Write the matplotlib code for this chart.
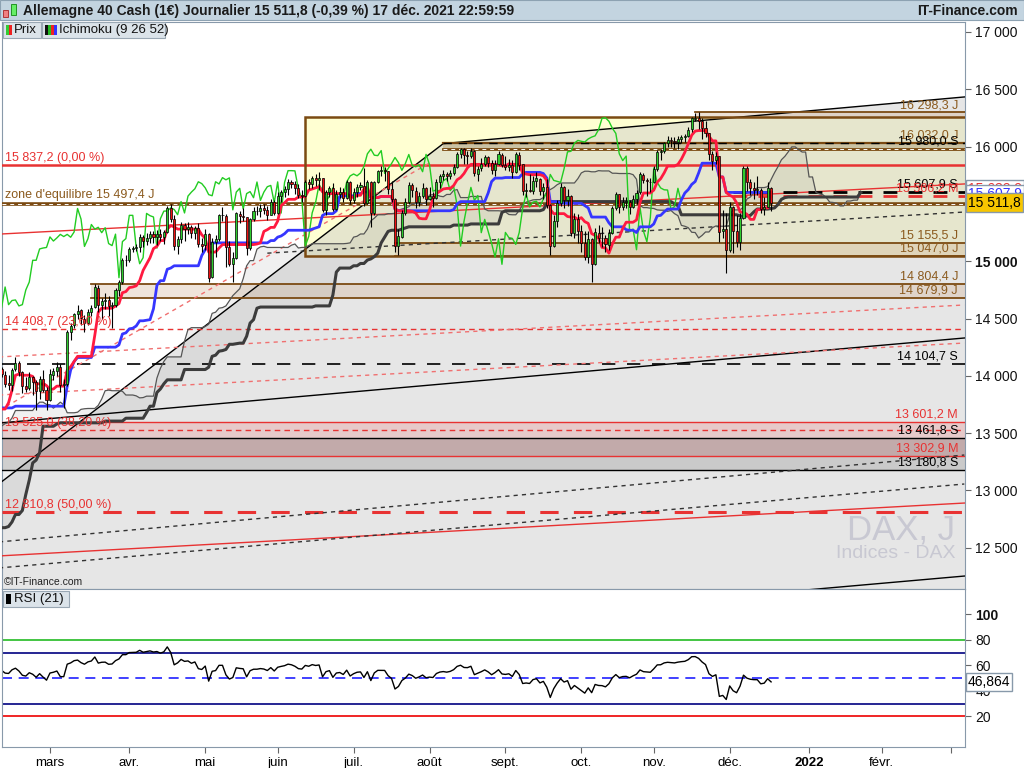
import numpy as np
import pandas as pd
import matplotlib
matplotlib.use('Agg')
import matplotlib.pyplot as plt
from matplotlib.patches import Rectangle, Polygon

plt.rcParams['font.family'] = ['Liberation Sans', 'DejaVu Sans']

# hidden history Oct 19 2020 - Feb 5 2021 (only warms up Ichimoku and RSI)
pre_highs = [12900, 12880, 12700, 12620, 12700, 12500, 12200, 12010, 11740, 11680,
             11830, 12120, 12400, 12600, 12560, 13300, 13250, 13300, 13200, 13120, 13190,
             13180, 13260, 13200, 13180, 13330, 13320, 13330, 13340, 13380, 13370,
             13420, 13400, 13350, 13330, 13340, 13320, 13380, 13340, 13200, 13280, 13400,
             13580, 13690, 13700, 13620, 13450, 13600, 13600, 13600, 13900, 13820, 13790, 13760,
             13760, 13810, 13720, 13920, 14000, 14130, 14050, 13990, 14000, 14040, 13990,
             13880, 13900, 13950, 13960, 13950, 13850, 13900, 13830, 13750, 13650,
             13650, 13900, 13980, 14080, 14100]
pre_lows = [12800, 12650, 12540, 12460, 12530, 12150, 11980, 11510, 11450, 11450,
            11520, 11800, 12050, 12350, 12400, 12530, 13000, 13150, 13020, 12990, 13030,
            13060, 13140, 13050, 13050, 13100, 13150, 13250, 13250, 13260, 13200,
            13300, 13250, 13200, 13200, 13200, 13180, 13270, 13240, 13050, 13100, 13180,
            13400, 13560, 13580, 13100, 13200, 13400, 13520, 13560, 13650, 13700, 13690, 13680,
            13680, 13550, 13480, 13600, 13850, 13950, 13830, 13820, 13850, 13900, 13720,
            13760, 13780, 13780, 13860, 13790, 13600, 13650, 13560, 13450, 13310,
            13420, 13640, 13850, 13900, 13970]
pre_closes = [12854, 12737, 12558, 12543, 12645, 12177, 12063, 11560, 11598, 11556,
              11788, 12088, 12324, 12568, 12480, 13095, 13163, 13216, 13052, 13076, 13139,
              13133, 13202, 13086, 13137, 13126, 13292, 13290, 13286, 13335, 13291,
              13382, 13313, 13252, 13298, 13271, 13278, 13340, 13295, 13114, 13223, 13362,
              13565, 13667, 13630, 13246, 13418, 13587, 13587, 13590, 13790, 13761, 13719, 13719,
              13719, 13727, 13651, 13892, 13968, 14050, 13937, 13926, 13940, 13989, 13788,
              13848, 13816, 13922, 13907, 13874, 13644, 13871, 13621, 13666, 13432,
              13623, 13835, 13933, 14060, 14057]

# visible daily candles Feb 8 2021 - Dec 17 2021
opens = [14060, 14060, 14010, 13935, 13920, 14060, 14110, 14030, 13910, 13890, 13990, 13950, 13865, 13975, 13880,
         13790, 14010, 14040, 14080, 13920, 13930, 14380, 14440, 14540, 14570, 14500, 14460, 14555, 14600, 14770,
         14620, 14655, 14660, 14610, 14620, 14750, 14820, 15010,
         15010, 15105, 15115, 15120, 15210, 15175, 15200, 15235, 15215, 15235, 15210, 15255, 15460, 15370, 15130,
         15195, 15320, 15280, 15295, 15250, 15290, 15150,
         15140, 15235, 14860, 15170, 15195, 15400, 15395, 15120, 14975, 15030, 15415, 15395, 15385, 15115, 15370,
         15435, 15440, 15465, 15450, 15405, 15520,
         15420, 15570, 15605, 15630, 15690, 15675, 15640, 15580, 15570, 15690, 15675, 15730, 15710, 15725, 15445,
         15600, 15635, 15455, 15590, 15605, 15555, 15690,
         15530, 15600, 15650, 15660, 15510, 15690, 15420, 15690, 15790, 15790, 15785, 15630, 15540, 15130, 15215,
         15420, 15515, 15665, 15615, 15520, 15570, 15640,
         15545, 15570, 15555, 15690, 15745, 15760, 15745, 15770, 15825, 15935, 15975, 15925, 15920, 15960, 15765,
         15810, 15850, 15905, 15860, 15795, 15850, 15930,
         15835, 15825, 15840, 15780, 15930, 15845, 15610, 15625, 15610, 15700, 15720, 15615, 15650, 15490, 15130,
         15350, 15505, 15645, 15530, 15570, 15250, 15365,
         15260, 15155, 15035, 15195, 14975, 15250, 15205, 15200, 15145, 15250, 15460, 15585, 15475, 15515, 15520,
         15475, 15545, 15600, 15755, 15705, 15695,
         15690, 15805, 15955, 15960, 16030, 16055, 16045, 16040, 16065, 16085, 16095, 16150, 16245, 16250, 16220,
         16160, 16115, 15935, 15880, 15915, 15260, 15280,
         15100, 15470, 15265, 15170, 15380, 15815, 15690, 15640, 15620, 15620, 15455, 15475, 15635]
highs = [14110, 14080, 14040, 14010, 14070, 14160, 14130, 14040, 13990, 14030, 14000, 13960, 14000, 14050, 13900,
         14060, 14070, 14120, 14100, 13970, 14400, 14460, 14550, 14620, 14580, 14530, 14580, 14620, 14800, 14790,
         14680, 14720, 14700, 14640, 14770, 14840, 15030, 15050,
         15120, 15130, 15150, 15240, 15230, 15250, 15260, 15260, 15270, 15280, 15270, 15480, 15500, 15400, 15220,
         15340, 15330, 15340, 15320, 15310, 15330, 15200,
         15280, 15250, 15200, 15230, 15410, 15470, 15410, 15180, 15080, 15430, 15440, 15460, 15390, 15380, 15470,
         15480, 15500, 15500, 15480, 15540, 15530,
         15600, 15620, 15660, 15720, 15710, 15700, 15670, 15620, 15710, 15720, 15740, 15760, 15780, 15730, 15620,
         15660, 15680, 15620, 15650, 15640, 15710, 15700,
         15640, 15670, 15690, 15810, 15710, 15700, 15700, 15800, 15830, 15820, 15790, 15700, 15550, 15280, 15450,
         15550, 15690, 15680, 15650, 15600, 15680, 15650,
         15650, 15600, 15720, 15760, 15800, 15780, 15800, 15850, 15950, 15990, 15990, 15960, 15990, 15970, 15830,
         15900, 15930, 15920, 15880, 15880, 15960, 15940,
         15920, 15890, 15880, 15950, 15950, 15850, 15680, 15760, 15740, 15780, 15730, 15680, 15720, 15500, 15400,
         15530, 15680, 15660, 15630, 15580, 15420, 15410,
         15320, 15260, 15260, 15200, 15290, 15320, 15300, 15230, 15280, 15480, 15600, 15590, 15560, 15560, 15530,
         15580, 15620, 15780, 15770, 15730, 15730,
         15830, 15970, 15980, 16040, 16090, 16080, 16080, 16090, 16100, 16110, 16170, 16260, 16290, 16300, 16250,
         16220, 16120, 15960, 15950, 15920, 15450, 15420,
         15520, 15480, 15400, 15420, 15830, 15830, 15720, 15690, 15740, 15640, 15560, 15690, 15650]
lows = [14010, 13990, 13900, 13880, 13870, 14040, 14000, 13850, 13860, 13880, 13830, 13700, 13800, 13860, 13700,
        13780, 13960, 14000, 13860, 13720, 13910, 14310, 14420, 14500, 14440, 14380, 14440, 14520, 14590, 14560,
        14500, 14580, 14520, 14420, 14600, 14700, 14800, 14960,
        14990, 15080, 15090, 15080, 15120, 15140, 15160, 15160, 15140, 15180, 15150, 15250, 15340, 15100, 15060,
        15160, 15180, 15240, 15200, 15190, 15120, 15080,
        15100, 14820, 14850, 15040, 15180, 15350, 14950, 14960, 14820, 15020, 15330, 15350, 15050, 15100, 15350,
        15400, 15390, 15410, 15360, 15400, 15400,
        15410, 15520, 15560, 15580, 15640, 15590, 15550, 15520, 15560, 15630, 15640, 15660, 15620, 15430, 15400,
        15560, 15440, 15450, 15550, 15520, 15540, 15500,
        15510, 15560, 15620, 15480, 15500, 15300, 15400, 15680, 15740, 15700, 15590, 15520, 15080, 15050, 15200,
        15400, 15500, 15560, 15460, 15480, 15550, 15490,
        15530, 15470, 15540, 15640, 15710, 15700, 15720, 15750, 15810, 15900, 15850, 15850, 15900, 15740, 15700,
        15790, 15830, 15820, 15760, 15740, 15840, 15820,
        15800, 15790, 15730, 15770, 15800, 15580, 15560, 15600, 15590, 15650, 15580, 15540, 15460, 15050, 15120,
        15300, 15480, 15460, 15480, 15220, 15200, 15160,
        15080, 15010, 14980, 14820, 14970, 15160, 15120, 15080, 15100, 15240, 15450, 15420, 15450, 15460, 15410,
        15460, 15500, 15590, 15680, 15570, 15600,
        15680, 15790, 15880, 15940, 16000, 16000, 15990, 15980, 16030, 16040, 16080, 16130, 16220, 16150, 16070,
        16080, 15880, 15800, 15850, 15170, 15200, 14900,
        15080, 15070, 15120, 15100, 15370, 15610, 15580, 15540, 15580, 15420, 15400, 15470, 15440]
closes = [14059, 14012, 13932, 13921, 14050, 14109, 14033, 13909, 13886, 13993, 13950, 13865, 13976, 13879, 13786,
          14012, 14039, 14080, 13920, 13920, 14380, 14437, 14540, 14569, 14502, 14461, 14557, 14596, 14775, 14621,
          14657, 14662, 14610, 14621, 14749, 14818, 15008, 15008,
          15107, 15115, 15120, 15212, 15176, 15203, 15234, 15215, 15234, 15209, 15255, 15460, 15368, 15129, 15196,
          15320, 15280, 15296, 15249, 15292, 15154, 15136,
          15236, 14856, 15171, 15197, 15400, 15400, 15120, 14978, 15031, 15417, 15397, 15386, 15114, 15370, 15437,
          15438, 15465, 15451, 15406, 15520, 15421,
          15568, 15603, 15632, 15693, 15677, 15640, 15581, 15571, 15693, 15674, 15729, 15710, 15727, 15448, 15603,
          15636, 15456, 15590, 15607, 15554, 15691, 15531,
          15603, 15650, 15661, 15511, 15692, 15420, 15688, 15790, 15790, 15788, 15630, 15540, 15133, 15216, 15422,
          15514, 15669, 15618, 15519, 15570, 15640, 15544,
          15568, 15555, 15692, 15744, 15761, 15745, 15770, 15826, 15937, 15977, 15925, 15921, 15965, 15766, 15808,
          15852, 15905, 15860, 15793, 15852, 15931, 15835,
          15824, 15840, 15781, 15932, 15843, 15610, 15623, 15609, 15701, 15722, 15616, 15651, 15490, 15132, 15348,
          15506, 15644, 15531, 15573, 15249, 15365, 15260,
          15156, 15036, 15195, 14973, 15251, 15206, 15199, 15147, 15250, 15462, 15587, 15474, 15516, 15523, 15473,
          15543, 15599, 15757, 15705, 15696, 15688,
          15806, 15954, 15959, 16030, 16054, 16046, 16040, 16067, 16083, 16094, 16148, 16247, 16251, 16221, 16160,
          16115, 15937, 15878, 15917, 15257, 15280, 15100,
          15472, 15263, 15170, 15380, 15813, 15687, 15639, 15623, 15621, 15453, 15476, 15636, 15511.8]

month_labels = ['mars', 'avr.', 'mai', 'juin', 'juil.', 'août', 'sept.', 'oct.', 'nov.', 'déc.', '2022', 'févr.', '']
price_ticks = [12500, 13000, 13500, 14000, 14500, 15000, 16000, 16500, 17000]
rsi_ticks = [20, 40, 60, 80, 100]

# fibonacci retracement, left labels
fib_values = [15837.2, 14408.7, 13525.0, 12810.8]
fib_pcts = [0.0, 23.6, 38.2, 50.0]
zone_value = 15497.4

# support / resistance levels, right labels (J = journalier, S = semaine, M = mois)
level_values = [16298.3, 16032.0, 15980.0, 15607.9, 15566.2, 15155.5, 15047.0,
                14804.4, 14679.9, 14104.7, 13601.2, 13461.8, 13302.9, 13180.8]
level_tags = ['J', 'J', 'S', 'S', 'M', 'J', 'J', 'J', 'J', 'S', 'M', 'S', 'M', 'S']

# trend lines: price on Feb 8 2021 and on Mar 7 2022
line_dates = ['2021-02-08', '2022-03-07']
black_lines = [(13587, 14330), (11511, 12253)]
red_lines = [(15236, 15674), (12428, 12890)]
dashed_lines = [(12550, 13309), (12323, 13056)]
mid_dashed = [('2021-05-27', 15070), ('2022-03-07', 15429)]
red_dashed_lines = [(14164, 14618), (13832, 14286)]
steep_red = [('2021-02-08', 13693), ('2021-08-02', 15857)]
channel_top = [('2021-02-08', 13053), ('2021-08-06', 16026), ('2022-03-07', 16433)]
yellow_box = ('2021-06-11', 15047.0, 16258.0)

tenkan_last, kijun_last, rsi_last = 15632.9, 15607.9, 46.864

BROWN = '#7b4a12'
BROWN_TXT = '#8b5a1e'
RED = '#e83232'


def fmt(v, dec=1):
    s = f'{v:,.{dec}f}'
    return s.replace(',', ' ').replace('.', ',')


high = pd.Series(pre_highs + highs, dtype=float)
low = pd.Series(pre_lows + lows, dtype=float)
close = pd.Series(pre_closes + closes, dtype=float)
n = len(close)
n_pre = len(pre_closes)
dates = pd.bdate_range(end='2021-12-17', periods=n)
all_dates = dates.append(pd.bdate_range(start='2021-12-20', periods=70))
x = np.arange(n)
xv = x[n_pre:]


def pos(d):
    return all_dates.searchsorted(pd.Timestamp(d))


shift = 26
tenkan = (high.rolling(9).max() + low.rolling(9).min()) / 2
kijun = (high.rolling(26).max() + low.rolling(26).min()) / 2
span_a = (tenkan + kijun) / 2
span_b = (high.rolling(52).max() + low.rolling(52).min()) / 2

delta = close.diff()
gain = delta.clip(lower=0).ewm(alpha=1 / 21, adjust=False).mean()
loss = (-delta.clip(upper=0)).ewm(alpha=1 / 21, adjust=False).mean()
rsi = 100 - 100 / (1 + gain / loss)

W, H = 1024, 768
fig = plt.figure(figsize=(10.24, 7.68), dpi=100)


def fx(px):
    return px / W


def fy(py):
    return 1 - py / H


ax = fig.add_axes([fx(2), fy(589), fx(965) - fx(2), fy(22) - fy(589)])
ax_r = fig.add_axes([fx(2), fy(747), fx(965) - fx(2), fy(589) - fy(747)], sharex=ax)

i_mar = pos('2021-03-01')
x0, x1 = i_mar - 13.9, i_mar + 265.2
ax.set_xlim(x0, x1)
ax.set_ylim(12140, 17087)

# yellow box and grey channel
yb0 = pos(yellow_box[0])
ax.add_patch(Rectangle((yb0, yellow_box[1]), x1 + 5 - yb0, yellow_box[2] - yellow_box[1],
                       facecolor='#ffffd2', edgecolor='none', zorder=1))
ct = [(pos(d), p) for d, p in channel_top]
ax.add_patch(Polygon(ct + [(x1 + 5, ct[-1][1]), (x1 + 5, 12000), (ct[0][0], 12000)],
                     closed=True, facecolor='#c8c8c8', alpha=0.45, edgecolor='none', zorder=1.5))
ax.plot([p[0] for p in ct], [p[1] for p in ct], color='black', lw=1, zorder=3)
ax.add_patch(Rectangle((yb0, yellow_box[1]), x1 + 5 - yb0, yellow_box[2] - yellow_box[1],
                       facecolor='none', edgecolor=BROWN, lw=1.8, zorder=3.2))

# bands between levels
ax.axhspan(level_values[11], level_values[10], color='#e8b0b0', alpha=0.5, lw=0, zorder=1.8)
ax.axhspan(level_values[12], level_values[11], color='#a07070', alpha=0.5, lw=0, zorder=1.8)
ax.axhspan(level_values[13], level_values[12], color='#a0a0a0', alpha=0.4, lw=0, zorder=1.8)
band_specs = [(8, 7, '2021-03-17'), (6, 5, '2021-07-19'), (2, 1, '2021-08-06')]
for lo_i, hi_i, start in band_specs:
    s = pos(start)
    col = '#a08c64' if lo_i == 2 else '#d2b496'
    ax.add_patch(Rectangle((s, level_values[lo_i]), x1 + 5 - s, level_values[hi_i] - level_values[lo_i],
                           facecolor=col, alpha=0.4 if lo_i == 2 else 0.35, edgecolor='none', zorder=1.8))
s_top = pos('2021-11-17')
ax.add_patch(Rectangle((s_top, yellow_box[2]), x1 + 5 - s_top, level_values[0] - yellow_box[2],
                       facecolor='#d2b496', alpha=0.4, edgecolor='none', zorder=1.8))

# level lines
for i in [0, 5, 6, 7, 8]:
    s = pos({0: '2021-11-17', 5: '2021-07-19', 6: '2021-07-19'}.get(i, '2021-03-17'))
    ax.plot([s, x1 + 5], [level_values[i]] * 2, color=BROWN, lw=1.3, zorder=3)
s = pos('2021-08-06')
ax.plot([s, x1 + 5], [level_values[1]] * 2, color=BROWN, lw=1.6, zorder=3)
ax.plot([s, x1 + 5], [level_values[1]] * 2, color='black', lw=1, ls=(0, (6, 5)), zorder=3.1)
ax.plot([s, x1 + 5], [level_values[2]] * 2, color=BROWN, lw=2, zorder=3)
ax.plot([s, x1 + 5], [level_values[2]] * 2, color='white', lw=0.7, ls=(0, (4, 4)), zorder=3.1)
s = pos('2021-12-02')
ax.plot([s, x1 + 5], [level_values[3]] * 2, color='black', lw=2, ls=(0, (5, 4)), zorder=3.5)
ax.plot([s, x1 + 5], [level_values[4]] * 2, color=RED, lw=2, ls=(0, (5, 4)), zorder=3.5)
ax.axhline(level_values[9], color='black', lw=1.2, ls=(0, (8, 7)), zorder=3)
for i in [10, 11, 12, 13]:
    ax.axhline(level_values[i], color=RED if level_tags[i] == 'M' else 'black', lw=1, zorder=3)

# fibonacci lines
ax.axhline(fib_values[0], color=RED, lw=1.8, zorder=3)
ax.axhline(fib_values[1], color=RED, lw=1, ls=(0, (4, 3)), zorder=3)
ax.axhline(fib_values[2], color=RED, lw=1, ls=(0, (4, 3)), zorder=3)
ax.axhline(fib_values[3], color=RED, lw=2.2, ls=(0, (6, 5)), zorder=3)
ax.axhline(zone_value, color=BROWN, lw=2.6, zorder=3)
ax.axhline(zone_value, color='white', lw=0.7, ls=(0, (4, 4)), zorder=3.1)

# trend lines
lx = [pos(d) for d in line_dates]
for p in black_lines:
    ax.plot(lx, p, color='black', lw=1, zorder=3)
for p in red_lines:
    ax.plot(lx, p, color=RED, lw=1, zorder=3)
for p in dashed_lines:
    ax.plot(lx, p, color='#333333', lw=1, ls=(0, (3, 3)), zorder=3)
ax.plot([pos(d) for d, _ in mid_dashed], [p for _, p in mid_dashed], color='#333333', lw=1,
        ls=(0, (3, 3)), zorder=3)
for p in red_dashed_lines:
    ax.plot(lx, p, color='#f07070', lw=1, ls=(0, (3, 3)), zorder=3)
ax.plot([pos(d) for d, _ in steep_red], [p for _, p in steep_red], color='#f07070', lw=1,
        ls=(0, (3, 3)), zorder=3)

# ichimoku
ax.fill_between(x + shift, span_a, span_b, color='#8a8a8a', alpha=0.12, lw=0, zorder=2)
ax.plot(x + shift, span_a, color='#555555', lw=0.9, zorder=4)
ax.plot(x + shift, span_b, color='#3c3c3c', lw=2.2, zorder=4)
ax.plot(x - shift, close, color='#22cc22', lw=1, zorder=5)
ax.plot(x, kijun, color='#3636ff', lw=2, zorder=5)
ax.plot(x, tenkan, color='#ff1a40', lw=2, zorder=5)

# candles
o = np.array(opens, dtype=float)
c = np.array(closes, dtype=float)
up = c >= o
ax.vlines(xv, lows, highs, color='black', lw=0.8, zorder=6)
ax.bar(xv, np.maximum(np.abs(c - o), 6), bottom=np.minimum(o, c), width=0.6,
       color=np.where(up, '#2ecc2e', '#ee1111'), edgecolor='black', lw=0.5, zorder=7)

# labels
for v, tag in zip(level_values, level_tags):
    col = {'J': BROWN_TXT, 'S': 'black', 'M': RED}[tag]
    ax.annotate(f'{fmt(v)} {tag}', xy=(1, v), xycoords=('axes fraction', 'data'),
                xytext=(-5, 1), textcoords='offset points', ha='right', va='bottom',
                fontsize=9, color=col, zorder=8)
for v, pc in zip(fib_values, fib_pcts):
    ax.annotate(f'{fmt(v)} ({fmt(pc, 2)} %)', xy=(0, v), xycoords=('axes fraction', 'data'),
                xytext=(2, 1), textcoords='offset points', ha='left', va='bottom',
                fontsize=9, color=RED, zorder=8)
ax.annotate(f"zone d'equilibre {fmt(zone_value)} J", xy=(0, zone_value),
            xycoords=('axes fraction', 'data'), xytext=(2, 2), textcoords='offset points',
            ha='left', va='bottom', fontsize=9, color=BROWN_TXT, zorder=8)

ax.text(0.99, 0.104, 'DAX, J', transform=ax.transAxes, ha='right', va='center',
        fontsize=25, color='#c8c8d2', zorder=2.5)
ax.text(0.99, 0.062, 'Indices - DAX', transform=ax.transAxes, ha='right', va='center',
        fontsize=14, color='#c8c8d2', zorder=2.5)
ax.text(0.002, 0.012, '©IT-Finance.com', transform=ax.transAxes, ha='left', va='center',
        fontsize=7.5, color='#222222', zorder=8)

# price axis
ax.yaxis.tick_right()
ax.set_yticks(price_ticks)
ax.set_yticklabels([fmt(t, 0) for t in price_ticks])
for t in ax.get_yticklabels():
    if t.get_text() == '15 000':
        t.set_fontweight('bold')
ax.tick_params(axis='y', labelsize=10, length=4, color='#666666', labelcolor='#111111')
ax.tick_params(axis='x', bottom=False, labelbottom=False)
yax = ax.get_yaxis_transform()
box_kw = dict(boxstyle='square,pad=0.15', edgecolor='#8899aa', lw=1)
ax.text(1.003, tenkan_last, fmt(tenkan_last), transform=yax, ha='left', va='center', fontsize=10,
        color=RED, bbox=dict(facecolor='white', **box_kw), clip_on=False, zorder=9)
ax.text(1.003, kijun_last - 20, fmt(kijun_last), transform=yax, ha='left', va='center', fontsize=10,
        color='#3333ff', bbox=dict(facecolor='white', **box_kw), clip_on=False, zorder=9)
ax.text(1.003, closes[-1], fmt(closes[-1]), transform=yax, ha='left', va='center', fontsize=10,
        color='black', bbox=dict(facecolor='#f7c600', **box_kw), clip_on=False, zorder=9)

# RSI panel
ax_r.set_ylim(-4, 120)
ax_r.axhline(80, color='#22bb22', lw=1.2)
ax_r.axhline(70, color='#000080', lw=1.2)
ax_r.axhline(50, color='#2020ff', lw=1.2, ls=(0, (6, 4)))
ax_r.axhline(30, color='#000080', lw=1.2)
ax_r.axhline(20, color='#ee0000', lw=1.2)
ax_r.plot(x, rsi, color='black', lw=1)
ax_r.yaxis.tick_right()
ax_r.set_yticks(rsi_ticks)
ax_r.set_yticklabels([str(t) for t in rsi_ticks])
for t in ax_r.get_yticklabels():
    if t.get_text() == '100':
        t.set_fontweight('bold')
ax_r.tick_params(axis='y', labelsize=10, length=4, color='#666666', labelcolor='#111111')
ax_r.text(1.003, rsi_last, fmt(rsi_last, 3), transform=ax_r.get_yaxis_transform(), ha='left',
          va='center', fontsize=10, color='black', bbox=dict(facecolor='white', **box_kw),
          clip_on=False, zorder=9)

month_starts = pd.date_range('2021-03-01', periods=len(month_labels), freq='MS')
ax_r.set_xticks([pos(m) for m in month_starts])
ax_r.set_xticklabels(month_labels)
for t in ax_r.get_xticklabels():
    if t.get_text() == '2022':
        t.set_fontweight('bold')
ax_r.tick_params(axis='x', labelsize=9.5, length=4, color='#666666', pad=3)

for a in (ax, ax_r):
    for sp in a.spines.values():
        sp.set_color('#8899aa')

# header bar and legend boxes
fig.add_artist(Rectangle((0, fy(20)), 1, 20 / H, transform=fig.transFigure,
                         facecolor='#c3d4e0', edgecolor='#8da2b2', lw=0.8))
fig.add_artist(Rectangle((fx(3), fy(17)), fx(5), 7 / H, transform=fig.transFigure,
                         facecolor='#f08080', edgecolor='#aa2222', lw=0.6))
fig.add_artist(Rectangle((fx(11), fy(15)), fx(5), 11 / H, transform=fig.transFigure,
                         facecolor='#66ee66', edgecolor='#118811', lw=0.6))
fig.text(fx(23), fy(11), 'Allemagne 40 Cash (1€) Journalier 15 511,8 (-0,39 %) 17 déc. 2021 22:59:59',
         ha='left', va='center', fontsize=10, fontweight='bold', color='#1a1a1a')
fig.text(fx(1018), fy(11), 'IT-Finance.com', ha='right', va='center', fontsize=10,
         fontweight='bold', color='#1a1a1a')

legend_boxes = [(3, 22, 38, 'Prix', ['#33cc33', '#ee2222']),
                (42, 22, 123, 'Ichimoku (9 26 52)', ['#111111', '#22bb22', '#ee2222', '#3333ff']),
                (3, 591, 66, 'RSI (21)', ['#000000'])]
for bx, by, bw, label, cols in legend_boxes:
    fig.add_artist(Rectangle((fx(bx), fy(by + 16)), fx(bw), 16 / H, transform=fig.transFigure,
                             facecolor='#dbe3e9', edgecolor='#9aa8b4', lw=0.8, zorder=10))
    for k, col in enumerate(cols):
        fig.add_artist(Rectangle((fx(bx + 3 + k * 3 if len(cols) > 1 else bx + 3), fy(by + 13)),
                                 fx(3 if len(cols) > 1 else 5), 10 / H, transform=fig.transFigure,
                                 facecolor=col, edgecolor='none', zorder=11))
    fig.text(fx(bx + 5 + 3 * max(len(cols), 2)), fy(by + 8), label, ha='left', va='center',
             fontsize=9.5, color='#111111', zorder=12)

fig.savefig('out.png', dpi=100)
